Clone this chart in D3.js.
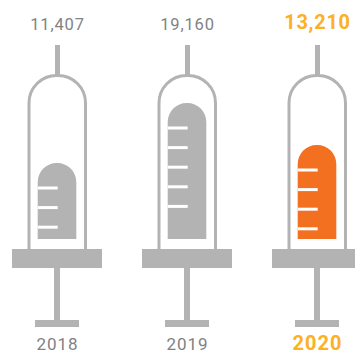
<!DOCTYPE html>
<html>
<head>
<meta charset="utf-8">
<script src="https://cdn.jsdelivr.net/npm/d3@7"></script>
<style>
  html, body { margin: 0; padding: 0; background: #fff; }
  svg { display: block; }
  text { font-family: Roboto, sans-serif; text-anchor: middle; }
</style>
</head>
<body>
<div id="chart"></div>
<script>
// Doses per year, drawn as the fill level of a syringe
const years = ["2018", "2019", "2020"];
const doses = [11407, 19160, 13210];
const graduations = [3, 5, 4];
const highlightYear = "2020";

const width = 355, height = 351;
const GREY = "#b3b3b3", LABEL = "#808285", ORANGE = "#f37021", AMBER = "#fdb022";

const x = d3.scalePoint().domain(years).range([57, 317]);
// Liquid top for each dose; the column always sits on the same baseline in the barrel
const level = d3.scaleLinear().domain([11407, 13210, 19160]).range([163, 145, 103]);
const liquidBottom = 239;

const isHot = d => d.year === highlightYear;

const svg = d3.select("#chart").append("svg").attr("width", width).attr("height", height);

const syringe = svg.selectAll("g.syringe")
  .data(years.map((year, i) => ({ year, dose: doses[i], ticks: graduations[i] })))
  .join("g")
  .attr("class", "syringe")
  .attr("transform", d => `translate(${x(d.year)},0)`);

// Value and year labels
syringe.append("text")
  .attr("x", 0.5)
  .attr("y", d => isHot(d) ? 29 : 29.5)
  .attr("font-size", d => isHot(d) ? 20 : 16.5)
  .attr("font-weight", d => isHot(d) ? 700 : 400)
  .attr("letter-spacing", d => isHot(d) ? 0.7 : 0.8)
  .attr("fill", d => isHot(d) ? AMBER : LABEL)
  .text(d => d3.format(",")(d.dose));

syringe.append("text")
  .attr("x", 0.5)
  .attr("y", 350)
  .attr("font-size", d => isHot(d) ? 20 : 17)
  .attr("font-weight", d => isHot(d) ? 700 : 400)
  .attr("letter-spacing", 1)
  .attr("fill", d => isHot(d) ? AMBER : LABEL)
  .text(d => d.year);

// Needle
syringe.append("rect").attr("x", -2).attr("y", 45).attr("width", 5).attr("height", 31).attr("fill", GREY);

// Barrel: open-bottomed outline with a rounded shoulder
const barrel = d3.path();
barrel.moveTo(-28, 250);
barrel.lineTo(-28, 103);
barrel.arcTo(-28, 75.5, 0.5, 75.5, 27.5);
barrel.arcTo(28.5, 75.5, 28.5, 103, 27.5);
barrel.lineTo(28.5, 250);
syringe.append("path").attr("d", barrel.toString()).attr("fill", "none").attr("stroke", GREY).attr("stroke-width", 3);

// Liquid column, rounded at the top
syringe.append("path")
  .attr("fill", d => isHot(d) ? ORANGE : GREY)
  .attr("d", d => {
    const top = level(d.dose), p = d3.path(), r = 19;
    p.moveTo(-19.3, liquidBottom);
    p.lineTo(-19.3, top + r);
    p.arcTo(-19.3, top, 0, top, r);
    p.arcTo(19.3, top, 19.3, top + r, r);
    p.lineTo(19.3, liquidBottom);
    p.closePath();
    return p.toString();
  });

// Graduation marks on the liquid
syringe.each(function(d) {
  d3.select(this).selectAll("rect.grad")
    .data(d3.range(d.ticks))
    .join("rect")
    .attr("class", "grad")
    .attr("x", -19.3)
    .attr("width", 20)
    .attr("height", 3)
    .attr("y", i => level(d.dose) + 23.5 + i * 19.6)
    .attr("fill", "#fff");
});

// Flange, plunger rod and thumb rest
syringe.append("rect").attr("x", -45).attr("y", 249).attr("width", 90).attr("height", 19).attr("fill", GREY);
syringe.append("rect").attr("x", -3).attr("y", 268).attr("width", 6).attr("height", 52).attr("fill", GREY);
syringe.append("rect").attr("x", -22).attr("y", 320).attr("width", 44).attr("height", 7).attr("fill", GREY);
</script>
</body>
</html>
